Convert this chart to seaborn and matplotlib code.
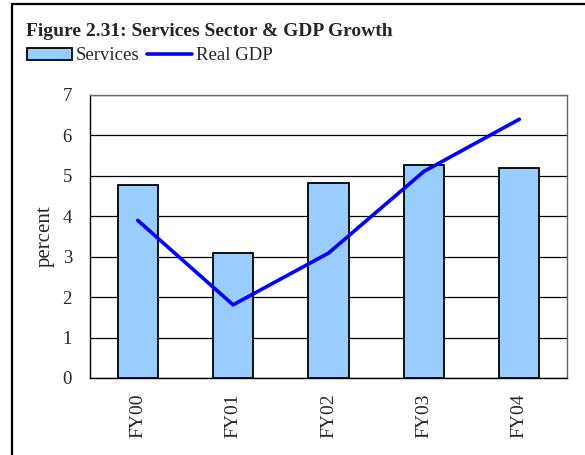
import numpy as np
import pandas as pd
import seaborn as sns
import matplotlib.pyplot as plt
from matplotlib.lines import Line2D
from matplotlib.patches import Patch

years = ['FY00', 'FY01', 'FY02', 'FY03', 'FY04']
services = [4.78, 3.10, 4.83, 5.28, 5.19]
real_gdp = [3.90, 1.81, 3.09, 5.11, 6.40]

sns.set_style('white')
plt.rcParams['font.family'] = ['Liberation Serif', 'DejaVu Serif']

df = pd.DataFrame({'year': years, 'services': services})

fig = plt.figure(figsize=(5.85, 4.55), dpi=100)
W, H = 585, 455
ax = fig.add_axes([90 / W, (H - 378) / H, (567 - 90) / W, (378 - 95) / H])

sns.barplot(data=df, x='year', y='services', color='#99ccff', saturation=1,
            width=0.42, edgecolor='black', linewidth=1.3, ax=ax, zorder=3)
ax.plot(np.arange(len(years)), real_gdp, color='#0000ff', lw=2.6, zorder=4,
        solid_capstyle='round')

ax.set_ylim(0, 7)
ax.set_xlim(-0.5, len(years) - 0.5)
ax.set_yticks(range(0, 8))
ax.yaxis.grid(True, color='black', lw=0.9, zorder=0)
ax.set_axisbelow(True)
ax.set_xlabel('')
ax.set_ylabel('percent', fontsize=15, labelpad=6)
ax.tick_params(axis='y', labelsize=13.5, length=0, pad=13)
ax.set_xticks(np.arange(len(years)))
ax.set_xticklabels(years, rotation=90, fontsize=14)
ax.tick_params(axis='x', which='major', length=0, pad=11)
ax.set_xticks(np.arange(-0.5, len(years)), minor=True)
ax.tick_params(axis='x', which='minor', length=5, width=1, direction='out', color='black')
for side in ['top', 'right']:
    ax.spines[side].set_color('#666666')
    ax.spines[side].set_linewidth(1)
for side in ['left', 'bottom']:
    ax.spines[side].set_color('black')
    ax.spines[side].set_linewidth(1)

fig.text(26 / W, 1 - 36 / H, 'Figure 2.31: Services Sector & GDP Growth',
         fontsize=14, fontweight='bold', va='baseline')

handles = [Patch(facecolor='#99ccff', edgecolor='black', lw=1.3),
           Line2D([0], [0], color='#0000ff', lw=2.6)]
fig.legend(handles, ['Services', 'Real GDP'], loc='center left',
           bbox_to_anchor=(27 / W, 1 - 56 / H), ncol=2, frameon=False,
           fontsize=13.5, handlelength=2.4, handleheight=0.6, handletextpad=0.2,
           columnspacing=0.4, borderaxespad=0, borderpad=0)

# outer frame (left and top edges visible)
fig.add_artist(Line2D([11.5 / W, 11.5 / W], [0, 1 - 4 / H], color='black', lw=1.6,
                      transform=fig.transFigure))
fig.add_artist(Line2D([11.5 / W, 1], [1 - 4 / H, 1 - 4 / H], color='black', lw=1.6,
                      transform=fig.transFigure))

fig.savefig('out.png', dpi=100)
